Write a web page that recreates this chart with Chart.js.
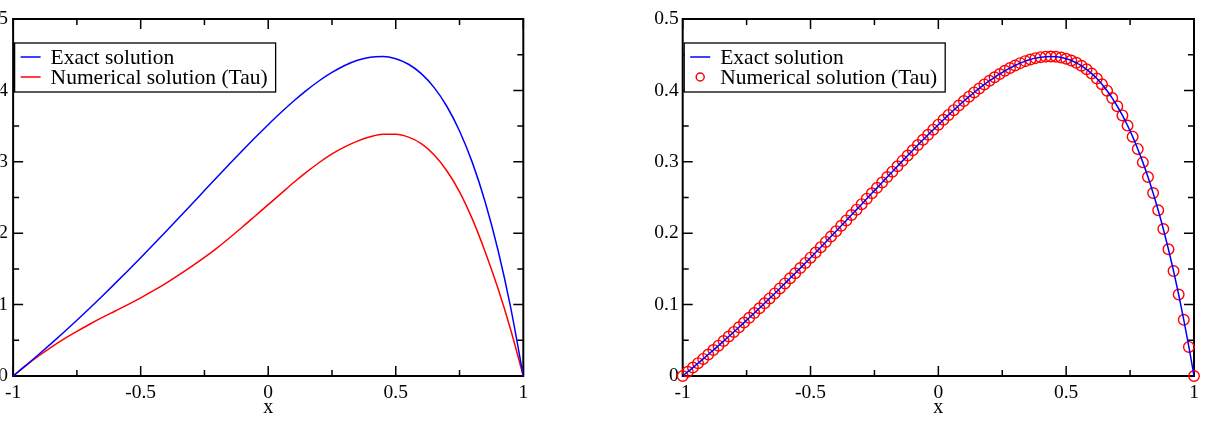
<!DOCTYPE html>
<html>
<head>
<meta charset="utf-8">
<script src="https://cdn.jsdelivr.net/npm/chart.js@4.4.1/dist/chart.umd.min.js"></script>
<style>
  html,body{margin:0;padding:0;background:#fff;}
  body{width:1209px;height:440px;position:relative;overflow:hidden;}
  canvas{position:absolute;top:0;}
  #leftChart{left:0;}
  #rightChart{left:640px;}
</style>
</head>
<body>
<canvas id="leftChart" width="560" height="440"></canvas>
<canvas id="rightChart" width="569" height="440"></canvas>
<script>
// ---- data ----
const xCoarse = [-1,-0.95,-0.9,-0.85,-0.8,-0.75,-0.7,-0.65,-0.6,-0.55,-0.5,-0.45,-0.4,-0.35,-0.3,-0.25,-0.2,-0.15,-0.1,-0.05,
  0,0.05,0.1,0.15,0.2,0.25,0.3,0.35,0.4,0.45,0.5,0.55,0.6,0.65,0.7,0.75,0.8,0.85,0.9,0.95,1];
// left panel (y scale 0..5)
const leftExact = [0,0.148,0.301,0.457,0.617,0.781,0.949,1.121,1.297,1.475,1.657,1.841,2.028,2.217,2.406,2.597,2.787,2.975,3.161,3.344,
  3.520,3.690,3.851,4.000,4.135,4.252,4.349,4.422,4.465,4.474,4.443,4.366,4.235,4.042,3.778,3.432,2.992,2.445,1.775,0.967,0];
const leftTau = [0,0.145,0.28,0.405,0.52,0.625,0.725,0.82,0.91,1.00,1.095,1.195,1.30,1.415,1.535,1.66,1.795,1.94,2.09,2.245,
  2.40,2.555,2.71,2.855,2.99,3.11,3.21,3.29,3.35,3.385,3.385,3.345,3.255,3.10,2.875,2.58,2.20,1.745,1.235,0.655,0];

// right panel (y scale 0..0.5), Tau values at the nodes
const xFine = [-1,-0.98,-0.96,-0.94,-0.92,-0.9,-0.88,-0.86,-0.84,-0.82,-0.8,-0.78,-0.76,-0.74,-0.72,-0.7,-0.68,-0.66,-0.64,-0.62,
  -0.6,-0.58,-0.56,-0.54,-0.52,-0.5,-0.48,-0.46,-0.44,-0.42,-0.4,-0.38,-0.36,-0.34,-0.32,-0.3,-0.28,-0.26,-0.24,-0.22,
  -0.2,-0.18,-0.16,-0.14,-0.12,-0.1,-0.08,-0.06,-0.04,-0.02,0,0.02,0.04,0.06,0.08,0.1,0.12,0.14,0.16,0.18,
  0.2,0.22,0.24,0.26,0.28,0.3,0.32,0.34,0.36,0.38,0.4,0.42,0.44,0.46,0.48,0.5,0.52,0.54,0.56,0.58,
  0.6,0.62,0.64,0.66,0.68,0.7,0.72,0.74,0.76,0.78,0.8,0.82,0.84,0.86,0.88,0.9,0.92,0.94,0.96,0.98,1];
const rightExact = [0,0.0059,0.0118,0.0179,0.0239,0.0301,0.0363,0.0425,0.0489,0.0553,0.0617,0.0682,0.0748,0.0815,0.0882,0.0949,0.1018,0.1087,0.1156,0.1226,
  0.1297,0.1368,0.1439,0.1511,0.1584,0.1657,0.1730,0.1804,0.1878,0.1953,0.2028,0.2103,0.2179,0.2255,0.2330,0.2406,0.2483,0.2559,0.2635,0.2711,
  0.2787,0.2862,0.2938,0.3013,0.3087,0.3161,0.3235,0.3308,0.3379,0.3450,0.3520,0.3589,0.3657,0.3723,0.3788,0.3851,0.3912,0.3971,0.4028,0.4083,
  0.4135,0.4184,0.4230,0.4274,0.4313,0.4349,0.4382,0.4410,0.4433,0.4452,0.4465,0.4473,0.4475,0.4471,0.4461,0.4443,0.4418,0.4386,0.4345,0.4295,
  0.4235,0.4166,0.4086,0.3996,0.3893,0.3778,0.3650,0.3508,0.3352,0.3180,0.2992,0.2787,0.2563,0.2321,0.2059,0.1775,0.1470,0.1141,0.0787,0.0407,0];
const rightTau = [0,0.0059,0.0118,0.0179,0.0239,0.0301,0.0363,0.0425,0.0489,0.0553,0.0617,0.0682,0.0748,0.0815,0.0882,0.0949,0.1018,0.1087,0.1156,0.1226,
  0.1297,0.1368,0.1439,0.1511,0.1584,0.1657,0.1730,0.1804,0.1878,0.1953,0.2028,0.2103,0.2179,0.2255,0.2330,0.2406,0.2483,0.2559,0.2635,0.2711,
  0.2787,0.2862,0.2938,0.3013,0.3087,0.3161,0.3235,0.3308,0.3379,0.3450,0.3520,0.3589,0.3657,0.3723,0.3788,0.3851,0.3912,0.3971,0.4028,0.4083,
  0.4135,0.4184,0.4230,0.4274,0.4313,0.4349,0.4382,0.4410,0.4433,0.4452,0.4465,0.4473,0.4475,0.4471,0.4461,0.4443,0.4418,0.4386,0.4345,0.4295,
  0.4235,0.4166,0.4086,0.3996,0.3893,0.3778,0.3650,0.3508,0.3352,0.3180,0.2992,0.2787,0.2563,0.2321,0.2059,0.1775,0.1470,0.1141,0.0787,0.0407,0];

const legendLabels = ['Exact solution', 'Numerical solution (Tau)'];

const serif = "'Liberation Serif', 'Times New Roman', serif";
const pts = (xs, ys) => xs.map((x,i)=>({x, y: ys[i]}));

// frame with inward major/minor ticks on all four sides (xmgrace look)
const frame = {
  id:'frame',
  beforeDatasetsDraw(chart){
    const {ctx, chartArea:a, scales:{x,y}} = chart;
    ctx.save();
    ctx.strokeStyle = '#000';
    ctx.lineWidth = 1.5;
    ctx.beginPath();
    const xt = x.ticks.map(t=>t.value), yt = y.ticks.map(t=>t.value);
    const mids = v => v.slice(1).map((t,i)=>(t+v[i])/2);
    xt.forEach(v=>{ const p=x.getPixelForValue(v); ctx.moveTo(p,a.bottom); ctx.lineTo(p,a.bottom-10); ctx.moveTo(p,a.top); ctx.lineTo(p,a.top+10); });
    mids(xt).forEach(v=>{ const p=x.getPixelForValue(v); ctx.moveTo(p,a.bottom); ctx.lineTo(p,a.bottom-6); ctx.moveTo(p,a.top); ctx.lineTo(p,a.top+6); });
    yt.forEach(v=>{ const p=y.getPixelForValue(v); ctx.moveTo(a.left,p); ctx.lineTo(a.left+10,p); ctx.moveTo(a.right,p); ctx.lineTo(a.right-10,p); });
    mids(yt).forEach(v=>{ const p=y.getPixelForValue(v); ctx.moveTo(a.left,p); ctx.lineTo(a.left+6,p); ctx.moveTo(a.right,p); ctx.lineTo(a.right-6,p); });
    ctx.stroke();
    ctx.lineWidth = 2;
    ctx.strokeRect(a.left, a.top, a.right-a.left, a.bottom-a.top);
    ctx.restore();
  }
};

// boxed legend inside the plot, top-left
const boxLegend = {
  id:'boxLegend',
  afterDraw(chart){
    const {ctx, chartArea:a} = chart;
    const L = a.left + 1.5, T = a.top + 24, W = 261, H = 49;
    ctx.save();
    ctx.fillStyle = '#fff';
    ctx.fillRect(L, T, W, H);
    ctx.strokeStyle = '#000';
    ctx.lineWidth = 1.3;
    ctx.strokeRect(L, T, W, H);
    ctx.font = '21.5px ' + serif;
    ctx.textBaseline = 'middle';
    chart.data.datasets.forEach((ds, i)=>{
      const yy = T + 14 + i*20;
      ctx.strokeStyle = ds.borderColor;
      ctx.lineWidth = 1.5;
      ctx.beginPath();
      if (ds.showLine) { ctx.moveTo(L+6, yy); ctx.lineTo(L+26, yy); }
      else { ctx.arc(L+16, yy, 4, 0, Math.PI*2); }
      ctx.stroke();
      ctx.fillStyle = '#000';
      ctx.fillText(ds.label, L+36, yy+1);
    });
    ctx.restore();
  }
};

function axes(ymax, ystep, leftW, ypad){
  const font = {family: serif, size: 19.5};
  return {
    x: {type:'linear', min:-1, max:1,
        ticks:{stepSize:0.5, color:'#000', font, padding:5, maxRotation:0, autoSkip:false,
               callback: v => String(Math.round(v*100)/100)},
        grid:{display:false, drawTicks:false}, border:{display:false},
        title:{display:true, text:'x', color:'#000', font:{family:serif, size:20}, padding:{top:0, bottom:20}},
        afterFit(s){ s.height = 64; }},
    y: {type:'linear', min:0, max:ymax,
        ticks:{stepSize:ystep, color:'#000', font, padding:ypad,
               callback: v => String(Math.round(v*100)/100)},
        grid:{display:false, drawTicks:false}, border:{display:false},
        afterFit(s){ s.width = leftW; }}
  };
}

const common = {
  responsive:false, animation:false,
  plugins:{legend:{display:false}, tooltip:{enabled:false}},
};

new Chart(document.getElementById('leftChart'), {
  type:'scatter',
  data:{datasets:[
    {label:legendLabels[0], data:pts(xCoarse, leftExact), showLine:true, borderColor:'#0000ff', borderWidth:1.5,
     pointRadius:0, cubicInterpolationMode:'monotone'},
    {label:legendLabels[1], data:pts(xCoarse, leftTau), showLine:true, borderColor:'#ff0000', borderWidth:1.5,
     pointRadius:0, cubicInterpolationMode:'monotone'}
  ]},
  options:{...common, layout:{padding:{left:0, right:36.7, top:19, bottom:0}}, scales:axes(5, 1, 12.7, 5)},
  plugins:[frame, boxLegend]
});

new Chart(document.getElementById('rightChart'), {
  type:'scatter',
  data:{datasets:[
    {label:legendLabels[0], data:pts(xFine, rightExact), showLine:true, borderColor:'#0000ff', borderWidth:1.5,
     pointRadius:0, cubicInterpolationMode:'monotone'},
    {label:legendLabels[1], data:pts(xFine, rightTau), showLine:false, borderColor:'#ff0000', backgroundColor:'rgba(0,0,0,0)',
     borderWidth:1.4, pointRadius:5.3, pointStyle:'circle', clip:false}
  ]},
  options:{...common, layout:{padding:{left:0, right:15, top:19, bottom:0}}, scales:axes(0.5, 0.1, 42.7, 4)},
  plugins:[frame, boxLegend]
});
</script>
</body>
</html>
